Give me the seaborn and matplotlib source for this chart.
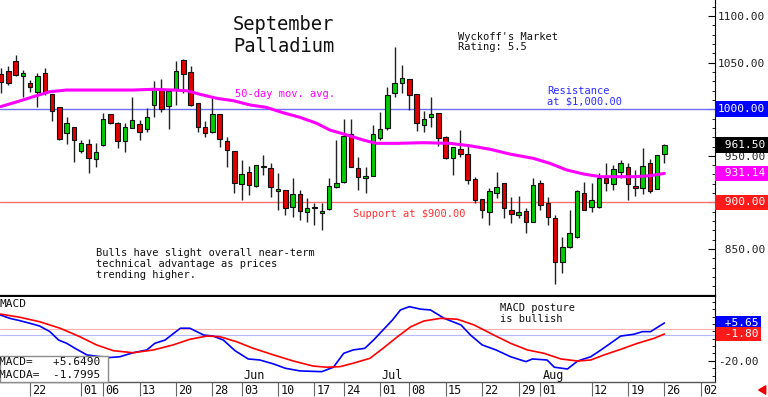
import numpy as np
import pandas as pd
import matplotlib
matplotlib.use("Agg")
import matplotlib.pyplot as plt
import matplotlib.transforms as mtransforms
from matplotlib.patches import Rectangle
import seaborn as sns

# Daily candles (trading-day index 0..91)
opens = [1037.8, 1041.3, 1051.7, 1035.6, 1028.4, 1018.8, 1039.2, 1016.0, 1002.0, 974.1,
         980.6, 955.5, 962.3, 946.2, 961.6, 994.5, 985.5, 966.2, 980.2, 983.8,
         978.4, 1004.2, 1021.3, 1003.4, 1021.3, 1052.8, 1040.2, 1006.3, 980.6, 975.9,
         994.8, 966.2, 955.5, 919.4, 932.9, 917.6, 939.0, 936.6, 912.2, 913.3,
         894.7, 909.0, 890.0, 895.0, 888.6, 892.9, 916.8, 922.2, 973.4, 936.6,
         925.8, 928.3, 968.8, 979.5, 1017.1, 1027.8, 1032.1, 1016.3, 983.0, 991.9,
         996.2, 970.0, 947.3, 957.3, 951.9, 924.8, 903.6, 890.2, 910.4, 920.5,
         891.8, 886.5, 891.1, 879.3, 920.5, 899.0, 883.0, 836.4, 852.5, 863.2,
         910.4, 894.7, 894.7, 926.5, 919.4, 932.3, 938.3, 917.9, 915.2, 941.9,
         914.4, 951.6]
highs = [1043.9, 1046.4, 1058.2, 1042.0, 1031.3, 1039.2, 1043.9, 1016.5, 1002.5, 991.3,
         981.0, 967.0, 967.7, 964.0, 996.2, 995.0, 986.0, 985.5, 1012.8, 988.4,
         1001.0, 1030.6, 1032.1, 1020.0, 1051.7, 1053.5, 1046.4, 1006.5, 987.3, 1012.3,
         995.0, 970.0, 955.5, 945.5, 939.0, 940.0, 950.9, 941.9, 931.2, 913.3,
         925.8, 913.3, 904.4, 899.0, 899.0, 925.8, 967.0, 989.2, 989.2, 949.2,
         938.3, 983.0, 997.3, 1024.1, 1066.4, 1047.4, 1032.1, 1016.3, 998.0, 1013.4,
         996.2, 971.0, 959.5, 977.7, 962.7, 927.6, 904.0, 915.2, 932.9, 920.5,
         906.1, 906.9, 893.7, 925.8, 924.0, 906.1, 886.5, 863.2, 891.8, 913.0,
         922.2, 921.2, 931.2, 941.9, 940.6, 945.5, 941.9, 934.8, 958.0, 946.4,
         951.0, 962.5]
lows = [1017.1, 1026.0, 1036.0, 1013.4, 1018.8, 1002.0, 1015.2, 987.7, 967.0, 962.7,
        943.7, 952.7, 931.2, 938.3, 961.0, 984.0, 958.0, 954.4, 980.0, 967.0,
        975.9, 991.9, 997.0, 978.4, 1004.5, 1017.1, 1003.4, 975.9, 970.0, 975.0,
        959.1, 937.6, 909.8, 902.6, 907.9, 917.0, 929.4, 906.1, 891.8, 886.5,
        884.8, 881.3, 879.3, 875.8, 870.4, 892.0, 915.0, 921.0, 938.0, 913.3,
        909.8, 928.0, 967.0, 977.7, 1012.8, 1017.1, 999.1, 976.9, 975.9, 980.6,
        960.5, 947.0, 929.4, 949.2, 919.7, 899.0, 883.0, 875.8, 904.4, 883.0,
        877.7, 883.0, 866.8, 879.0, 891.8, 875.8, 813.0, 823.9, 850.7, 862.0,
        891.8, 890.0, 894.0, 912.5, 913.3, 925.8, 902.6, 906.9, 909.0, 909.8,
        914.0, 941.9]
closes = [1029.5, 1028.4, 1036.7, 1038.5, 1023.5, 1035.6, 1018.8, 998.0, 967.7, 984.9,
          967.0, 964.0, 947.3, 954.4, 989.5, 985.5, 965.9, 981.2, 988.4, 975.9,
          991.9, 1021.3, 1000.5, 1019.8, 1041.0, 1037.4, 1004.5, 981.2, 974.1, 994.8,
          968.0, 956.2, 920.5, 930.1, 918.7, 939.8, 937.6, 916.8, 914.4, 893.7,
          909.0, 891.1, 893.7, 894.0, 890.8, 917.6, 920.5, 971.6, 938.3, 926.9,
          928.3, 973.4, 978.4, 1015.2, 1028.4, 1033.8, 1015.2, 984.9, 989.5, 994.8,
          968.8, 947.3, 959.1, 951.6, 924.0, 903.0, 892.3, 912.7, 916.8, 893.7,
          887.3, 890.2, 879.3, 918.7, 897.2, 884.0, 836.4, 852.5, 866.8, 912.2,
          892.3, 902.6, 925.8, 920.5, 935.5, 941.9, 919.4, 915.2, 939.0, 912.5,
          950.9, 961.5]

# 50-day moving average
ma_day = [-0.1, 2.2, 4.4, 6.7, 9.0, 13.6, 18.1, 20.9, 23.6, 25.5, 27.3, 29.6, 31.9,
          34.2, 36.4, 38.7, 41.0, 43.3, 45.1, 47.0, 49.7, 51.5, 54.3, 57.9, 61.6,
          64.3, 67.1, 69.8, 73.0, 75.3, 77.6, 79.9, 82.2, 84.5, 86.8, 89.0, 91.0]
ma_val = [1002.7, 1008.0, 1013.4, 1018.8, 1020.6, 1020.6, 1020.6, 1021.4, 1020.6, 1019.8,
          1016.0, 1011.7, 1009.1, 1004.5, 1002.0, 996.2, 991.3, 984.9, 977.7, 973.4,
          966.9, 963.4, 963.4, 964.1, 963.4, 960.8, 957.0, 951.9, 947.3, 941.9,
          934.8, 930.5, 927.6, 927.6, 927.6, 928.6, 931.14]

# MACD (blue) and its average (red)
macd_day = [-0.1, 1.2, 2.6, 4.0, 5.3, 6.7, 7.9, 9.0, 10.4, 11.8, 14.7, 16.3, 18.1, 20.0,
            21.1, 22.5, 24.6, 25.9, 27.8, 29.1, 30.5, 32.1, 33.9, 35.5, 37.4, 39.0, 41.0,
            44.0, 45.6, 47.0, 48.3, 49.9, 51.1, 52.4, 53.7, 54.8, 56.0, 57.6, 58.9, 60.8,
            63.1, 64.4, 66.0, 67.9, 69.9, 72.0, 72.9, 74.9, 75.9, 77.7, 79.1, 80.9, 82.3,
            83.6, 85.0, 86.8, 88.0, 89.1, 91.0]
macd_val = [11.1, 8.8, 7.2, 5.4, 3.6, -0.2, -5.9, -8.1, -12.2, -16.0, -17.8, -17.2, -14.5,
            -12.6, -8.1, -5.9, 2.1, 2.1, -2.5, -3.2, -5.9, -13.1, -18.7, -19.4, -22.1, -25.0,
            -26.8, -27.3, -24.3, -14.9, -12.6, -11.5, -5.9, 0.9, 7.7, 14.5, 16.7, 15.0, 14.5,
            8.8, 4.3, -2.5, -9.2, -12.6, -17.2, -20.5, -18.7, -19.4, -24.3, -25.5, -20.1,
            -17.2, -12.6, -8.1, -3.2, -2.0, -0.2, -0.2, 5.65]
signal_day = [-0.1, 2.6, 5.3, 8.1, 10.8, 13.1, 15.4, 18.1, 20.9, 23.6, 25.9, 28.2, 30.0,
              32.3, 34.6, 37.4, 40.1, 42.8, 44.7, 46.5, 48.3, 50.6, 52.4, 54.4, 56.2, 58.0,
              60.3, 62.6, 64.9, 67.6, 69.9, 72.2, 74.5, 76.8, 79.1, 80.9, 82.7, 85.0, 87.3,
              89.6, 91.0]
signal_val = [11.7, 9.5, 6.5, 2.1, -3.6, -9.2, -13.1, -14.5, -12.6, -9.2, -5.4, -3.2, -3.6,
              -7.0, -11.5, -16.0, -20.1, -23.5, -24.3, -23.9, -21.6, -18.3, -11.5, -3.6, 3.1,
              7.0, 8.8, 8.2, 4.3, -2.5, -8.1, -12.6, -14.9, -18.7, -20.1, -19.4, -16.0, -12.2,
              -8.1, -4.7, -1.80]

tick_days = [4, 11, 14, 19, 24, 29, 33, 38, 43, 47, 52, 56, 61, 66, 71, 74, 81, 86, 91, 96]
tick_labels = ["22", "01", "06", "13", "20", "28", "03", "10", "17", "24",
               "01", "08", "15", "22", "29", "01", "12", "19", "26", "02"]
month_days = [33, 52, 74]
month_labels = ["Jun", "Jul", "Aug"]

price_ticks = [850, 900, 950, 1000, 1050, 1100]

GREEN = "#00cc00"
RED = "#e00000"
BLUE = "#0000ff"
MAGENTA = "#ff00ff"

sns.set_style("white")
plt.rcParams["font.family"] = ["DejaVu Sans Mono", "DejaVu Sans"]

candles = pd.DataFrame({"open": opens, "high": highs, "low": lows, "close": closes})
candles["day"] = np.arange(len(candles))
candles["up"] = candles["close"] >= candles["open"]
candles["body_lo"] = candles[["open", "close"]].min(axis=1)
candles["body_h"] = (candles["close"] - candles["open"]).abs().clip(lower=1.2)

W, H = 768, 397
fig = plt.figure(figsize=(W / 100, H / 100), dpi=100)
ax = fig.add_axes([0, 101 / H, 715 / W, 296 / H])
ax2 = fig.add_axes([0, 15.3 / H, 715 / W, 84.7 / H])
XLIM = (-0.14, 97.94)

# ---- price panel
ax.axhline(1000, color="#6f6fff", lw=1, zorder=1)
ax.axhline(900, color="#ff7070", lw=1, zorder=1)
ax.vlines(candles["day"], candles["low"], candles["high"], color="#222222", lw=1, zorder=2)
ax.bar(candles["day"], candles["body_h"], bottom=candles["body_lo"], width=0.62,
       color=np.where(candles["up"], GREEN, RED), edgecolor="#111111", lw=0.8, zorder=3)
sns.lineplot(x=ma_day, y=ma_val, ax=ax, color=MAGENTA, lw=2.2, zorder=4)

ax.set_xlim(*XLIM)
ax.set_ylim(799.6, 1117.2)
ax.set_xticks([])
ax.spines[["top", "left"]].set_visible(False)
ax.spines["right"].set_color("black")
ax.spines["bottom"].set_color("black")
ax.spines["bottom"].set_linewidth(1.6)
ax.yaxis.tick_right()
ax.set_yticks(price_ticks)
ax.set_yticklabels([f"{v:7.2f}" for v in price_ticks])
ax.yaxis.set_minor_locator(matplotlib.ticker.MultipleLocator(10))
ax.tick_params(axis="y", which="both", right=True, left=False, direction="in",
               labelsize=8, pad=2, labelcolor="#222222", color="black")
ax.tick_params(axis="y", which="major", length=5)
ax.tick_params(axis="y", which="minor", length=2.5)

right_tr = mtransforms.blended_transform_factory(ax.transAxes, ax.transData)
for val, label, col in [(1000, "1000.00", BLUE), (961.5, " 961.50", "black"),
                        (931.14, " 931.14", MAGENTA), (900, " 900.00", "#ff1a1a")]:
    ax.text(718 / 715, val, label, transform=right_tr, ha="left", va="center",
            fontsize=8, color="white", clip_on=False, zorder=6,
            bbox=dict(facecolor=col, edgecolor="none", boxstyle="square,pad=0.25"))


def put(x, y, lines, size=7.5, color="#111111", step=11):
    for k, line in enumerate(lines):
        fig.text(x / W, 1 - (y + k * step) / H, line, ha="left", va="center",
                 fontsize=size, color=color)


put(233, 24, ["September", "Palladium"], size=13.5, step=22)
put(458, 37, ["Wyckoff's Market", "Rating: 5.5"], step=10.5)
put(235, 94, ["50-day mov. avg."], color=MAGENTA)
put(547, 91, ["Resistance", "at $1,000.00"], color="#2b2bff", step=10)
put(353, 214, ["Support at $900.00"], color="#ff3030")
put(96, 253, ["Bulls have slight overall near-term",
              "technical advantage as prices",
              "trending higher."])
put(500, 308, ["MACD posture", "is bullish"])

# ---- MACD panel
ax2.axhline(1.4, color="#ffb0b0", lw=0.8, zorder=1)
ax2.axhline(-2.5, color="#b8b8ff", lw=0.8, zorder=1)
sns.lineplot(x=macd_day, y=macd_val, ax=ax2, color=BLUE, lw=1.2, zorder=2)
sns.lineplot(x=signal_day, y=signal_val, ax=ax2, color="#ff0000", lw=1.2, zorder=2)
ax2.set_xlim(*XLIM)
ax2.set_ylim(-34.1, 23.25)
ax2.set_xlabel("")
ax2.set_ylabel("")
ax2.spines[["top", "left"]].set_visible(False)
ax2.spines["right"].set_color("black")
ax2.spines["bottom"].set_color("#555555")
ax2.spines["bottom"].set_linewidth(1)

ax2.set_xticks(tick_days)
ax2.tick_params(axis="x", bottom=True, direction="out", length=10, width=0.8,
                color="#666666", labelbottom=False)
ax2.yaxis.tick_right()
ax2.set_yticks([-20])
ax2.set_yticklabels(["-20.00"])
ax2.yaxis.set_minor_locator(matplotlib.ticker.MultipleLocator(5))
ax2.tick_params(axis="y", which="both", right=True, left=False, direction="in",
                labelsize=8, pad=2, labelcolor="#222222", color="black")
ax2.tick_params(axis="y", which="major", length=5)
ax2.tick_params(axis="y", which="minor", length=2.5)

right_tr2 = mtransforms.blended_transform_factory(ax2.transAxes, ax2.transData)
for val, label, col in [(5.65, " +5.65", BLUE), (-1.80, " -1.80", "#ff1a1a")]:
    ax2.text(718 / 715, val, label, transform=right_tr2, ha="left", va="center",
             fontsize=8, color="white", clip_on=False, zorder=6,
             bbox=dict(facecolor=col, edgecolor="none", boxstyle="square,pad=0.2"))

date_tr = mtransforms.blended_transform_factory(ax2.transData, ax2.transAxes)
for d, lab in zip(tick_days, tick_labels):
    ax2.text(d + 0.3, -0.098, lab, transform=date_tr, ha="left", va="center",
             fontsize=8.5, color="#111111", clip_on=False)
for d, lab in zip(month_days, month_labels):
    ax2.text(d + 0.25, 0.07, lab, transform=date_tr, ha="left", va="center",
             fontsize=8.5, color="#111111")

ax2.text(-1 / 715, 0.917, "MACD", transform=ax2.transAxes, ha="left", va="center",
         fontsize=8, color="#111111")
ax2.add_patch(Rectangle((0, 0), 108 / 715, 26 / 84.7, transform=ax2.transAxes,
                        facecolor="white", edgecolor="#8c8c8c", lw=1, zorder=5,
                        clip_on=False))
ax2.text(-1 / 715, 0.233, "MACD=   +5.6490", transform=ax2.transAxes, ha="left",
         va="center", fontsize=8, color="#111111", zorder=6)
ax2.text(-1 / 715, 0.079, "MACDA=  -1.7995", transform=ax2.transAxes, ha="left",
         va="center", fontsize=8, color="#111111", zorder=6)

# little red arrow in the corner
fig.add_artist(matplotlib.patches.FancyArrowPatch((768, 7), (756, 7), transform=None,
                                                  arrowstyle="simple,head_width=0.6,tail_width=0.25",
                                                  mutation_scale=10, color="#ee0000"))

fig.savefig("out.png", dpi=100)
